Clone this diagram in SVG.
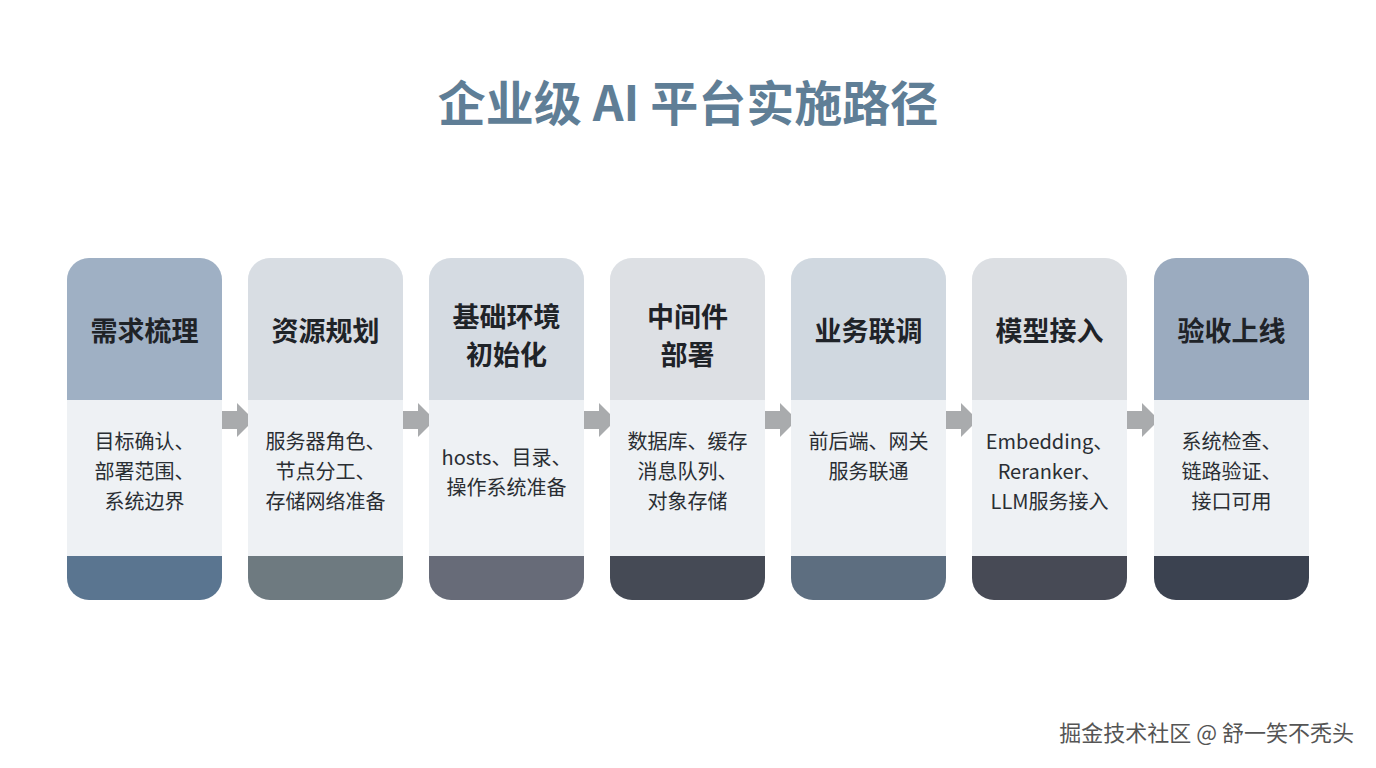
<svg xmlns="http://www.w3.org/2000/svg" width="1376" height="768" viewBox="0 0 1376 768">
<style>
.t{font-family:"Noto Sans CJK SC","Noto Sans",sans-serif}
.h{font-size:27px;font-weight:bold;fill:#1f2328;text-anchor:middle}
.b{font-size:20px;fill:#2a2e33;text-anchor:middle}
.body{fill:#eef1f4}
.ar{fill:#a9abad}
</style>
<defs>
<clipPath id="c"><rect x="0" y="0" width="155" height="342" rx="22"/></clipPath>
</defs>
<rect width="1376" height="768" fill="#fff"/>
<text class="t" x="688" y="121" font-size="48" font-weight="bold" fill="#5f7e96" text-anchor="middle">企业级 AI 平台实施路径</text>
<g id="connectors">
<polygon class="ar" points="215,411 237,411 237,403 254,420 237,437 237,429 215,429"/>
<polygon class="ar" points="396,411 418,411 418,403 435,420 418,437 418,429 396,429"/>
<polygon class="ar" points="577,411 599,411 599,403 616,420 599,437 599,429 577,429"/>
<polygon class="ar" points="758,411 780,411 780,403 797,420 780,437 780,429 758,429"/>
<polygon class="ar" points="939,411 961,411 961,403 978,420 961,437 961,429 939,429"/>
<polygon class="ar" points="1120,411 1142,411 1142,403 1159,420 1142,437 1142,429 1120,429"/>
</g>
<g id="n1" transform="translate(67,258)"><g clip-path="url(#c)"><rect class="body" width="155" height="342"/><rect width="155" height="142" fill="#9fb0c4"/><rect y="298" width="155" height="44" fill="#5a7590"/></g>
<text class="t h" x="77.5" y="83">需求梳理</text>
<text class="t b" x="77.5" y="191">目标确认、</text><text class="t b" x="77.5" y="221">部署范围、</text><text class="t b" x="77.5" y="251">系统边界</text></g>
<g id="n2" transform="translate(248,258)"><g clip-path="url(#c)"><rect class="body" width="155" height="342"/><rect width="155" height="142" fill="#d8dde3"/><rect y="298" width="155" height="44" fill="#6e7a80"/></g>
<text class="t h" x="77.5" y="83">资源规划</text>
<text class="t b" x="77.5" y="191">服务器角色、</text><text class="t b" x="77.5" y="221">节点分工、</text><text class="t b" x="77.5" y="251">存储网络准备</text></g>
<g id="n3" transform="translate(429,258)"><g clip-path="url(#c)"><rect class="body" width="155" height="342"/><rect width="155" height="142" fill="#d5dbe2"/><rect y="298" width="155" height="44" fill="#676b78"/></g>
<text class="t h" x="77.5" y="69">基础环境</text><text class="t h" x="77.5" y="107">初始化</text>
<text class="t b" x="77.5" y="207">hosts、目录、</text><text class="t b" x="77.5" y="237">操作系统准备</text></g>
<g id="n4" transform="translate(610,258)"><g clip-path="url(#c)"><rect class="body" width="155" height="342"/><rect width="155" height="142" fill="#dde0e4"/><rect y="298" width="155" height="44" fill="#454a55"/></g>
<text class="t h" x="77.5" y="69">中间件</text><text class="t h" x="77.5" y="107">部署</text>
<text class="t b" x="77.5" y="191">数据库、缓存</text><text class="t b" x="77.5" y="221">消息队列、</text><text class="t b" x="77.5" y="251">对象存储</text></g>
<g id="n5" transform="translate(791,258)"><g clip-path="url(#c)"><rect class="body" width="155" height="342"/><rect width="155" height="142" fill="#d0d8e0"/><rect y="298" width="155" height="44" fill="#5d6e80"/></g>
<text class="t h" x="77.5" y="83">业务联调</text>
<text class="t b" x="77.5" y="191">前后端、网关</text><text class="t b" x="77.5" y="221">服务联通</text></g>
<g id="n6" transform="translate(972,258)"><g clip-path="url(#c)"><rect class="body" width="155" height="342"/><rect width="155" height="142" fill="#dcdfe3"/><rect y="298" width="155" height="44" fill="#474a55"/></g>
<text class="t h" x="77.5" y="83">模型接入</text>
<text class="t b" x="77.5" y="191">Embedding、</text><text class="t b" x="77.5" y="221">Reranker、</text><text class="t b" x="77.5" y="251">LLM服务接入</text></g>
<g id="n7" transform="translate(1154,258)"><g clip-path="url(#c)"><rect class="body" width="155" height="342"/><rect width="155" height="142" fill="#9babbf"/><rect y="298" width="155" height="44" fill="#3b4250"/></g>
<text class="t h" x="77.5" y="83">验收上线</text>
<text class="t b" x="77.5" y="191">系统检查、</text><text class="t b" x="77.5" y="221">链路验证、</text><text class="t b" x="77.5" y="251">接口可用</text></g>
<text class="t" x="1354" y="741" font-size="22" fill="#555" text-anchor="end">掘金技术社区 @ 舒一笑不秃头</text>
</svg>
